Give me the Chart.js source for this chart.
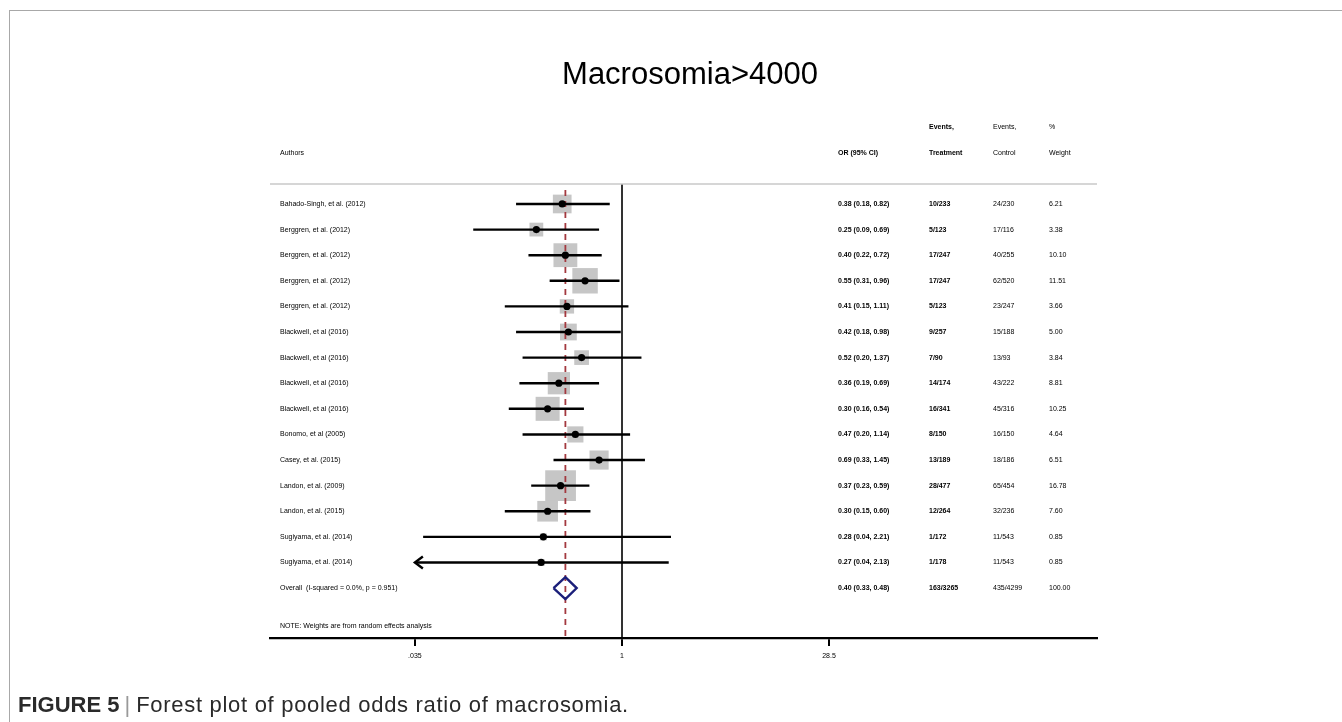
<!DOCTYPE html>
<html lang="en">
<head>
<meta charset="utf-8">
<title>Macrosomia>4000</title>
<script src="https://cdn.jsdelivr.net/npm/chart.js@4.4.0/dist/chart.umd.min.js"></script>
<style>
    html, body { margin: 0; padding: 0; background: #fff; }
    #marco {
        position: absolute; left: 9px; top: 10px; right: 0; bottom: 0;
        border-top: 1px solid #a8a8a8; border-left: 1px solid #a8a8a8;
    }
    #bosque { position: absolute; left: 0; top: 0; }
    #pie {
        position: absolute; left: 18px; top: 692px;
        font-family: "Liberation Sans", Arial, sans-serif; font-size: 22px; color: #2a2a2a;
        white-space: nowrap;
    }
    #pie .barra { color: #999; margin: 0 6px 0 5px; }
    #pie .resto { letter-spacing: 0.7px; }
</style>
</head>
<body>
<div id="marco"></div>
<canvas id="bosque" width="1342" height="722"></canvas>
<div id="pie"><b>FIGURE 5</b><span class="barra">|</span><span class="resto">Forest plot of pooled odds ratio of macrosomia.</span></div>

<script>
const autores = [
    'Bahado-Singh, et al. (2012)',
    'Berggren, et al. (2012)',
    'Berggren, et al. (2012)',
    'Berggren, et al. (2012)',
    'Berggren, et al. (2012)',
    'Blackwell, et al (2016)',
    'Blackwell, et al (2016)',
    'Blackwell, et al (2016)',
    'Blackwell, et al (2016)',
    'Bonomo, et al (2005)',
    'Casey, et al. (2015)',
    'Landon, et al. (2009)',
    'Landon, et al. (2015)',
    'Sugiyama, et al. (2014)',
    'Sugiyama, et al. (2014)'
];
const oddsRatio = [0.38, 0.25, 0.40, 0.55, 0.41, 0.42, 0.52, 0.36, 0.30, 0.47, 0.69, 0.37, 0.30, 0.28, 0.27];
const icInferior = [0.18, 0.09, 0.22, 0.31, 0.15, 0.18, 0.20, 0.19, 0.16, 0.20, 0.33, 0.23, 0.15, 0.04, 0.04];
const icSuperior = [0.82, 0.69, 0.72, 0.96, 1.11, 0.98, 1.37, 0.69, 0.54, 1.14, 1.45, 0.59, 0.60, 2.21, 2.13];
const eventosTratamiento = ['10/233', '5/123', '17/247', '17/247', '5/123', '9/257', '7/90', '14/174', '16/341', '8/150', '13/189', '28/477', '12/264', '1/172', '1/178'];
const eventosControl = ['24/230', '17/116', '40/255', '62/520', '23/247', '15/188', '13/93', '43/222', '45/316', '16/150', '18/186', '65/454', '32/236', '11/543', '11/543'];
const pesos = [6.21, 3.38, 10.10, 11.51, 3.66, 5.00, 3.84, 8.81, 10.25, 4.64, 6.51, 16.78, 7.60, 0.85, 0.85];
const filasConFlecha = [14]; // IC recortado al borde izquierdo

const globalEtiqueta = 'Overall  (I-squared = 0.0%, p = 0.951)';
const globalOR = 0.40;
const globalInferior = 0.33;
const globalSuperior = 0.48;
const globalTratamiento = '163/3265';
const globalControl = '435/4299';
const globalPeso = 100.00;

const valoresEje = [0.035, 1, 28.5];
const etiquetasEje = ['.035', '1', '28.5'];

(function () {
    const fuente = '"Liberation Sans", Arial, sans-serif';
    const n = autores.length;
    const filaGlobal = n;
    const yMin = -0.78;
    const yMax = 16.95;
    const recorte = valoresEje[0];
    const col = { autores: 280, or: 838, trat: 929, ctrl: 993, peso: 1049 };

    const fmt = v => v.toFixed(2);
    const textoOR = (o, a, b) => `${fmt(o)} (${fmt(a)}, ${fmt(b)})`;

    const lineasIC = autores.map((a, i) => ({
        type: 'line',
        data: [
            { x: filasConFlecha.includes(i) ? recorte : icInferior[i], y: i },
            { x: icSuperior[i], y: i }
        ],
        borderColor: '#000',
        borderWidth: 2.4,
        pointRadius: 0,
        order: 3
    }));

    const textos = {
        id: 'textos',
        afterDatasetsDraw(chart) {
            const { ctx, scales: { x, y }, chartArea } = chart;
            ctx.save();
            ctx.fillStyle = '#000';
            ctx.textBaseline = 'middle';

            // titulo
            ctx.font = '31px ' + fuente;
            ctx.textAlign = 'center';
            ctx.fillText('Macrosomia>4000', 690, y.getPixelForValue(-5));

            ctx.textAlign = 'left';
            const escribir = (txt, xx, fila, negrita) => {
                ctx.font = (negrita ? 'bold ' : '') + '7px ' + fuente;
                ctx.fillText(txt, xx, y.getPixelForValue(fila));
            };

            // encabezados
            escribir('Events,', col.trat, -3, true);
            escribir('Events,', col.ctrl, -3, false);
            escribir('%', col.peso, -3, false);
            escribir('Authors', col.autores, -2, false);
            escribir('OR (95% CI)', col.or, -2, true);
            escribir('Treatment', col.trat, -2, true);
            escribir('Control', col.ctrl, -2, false);
            escribir('Weight', col.peso, -2, false);

            autores.forEach((a, i) => {
                escribir(a, col.autores, i, false);
                escribir(textoOR(oddsRatio[i], icInferior[i], icSuperior[i]), col.or, i, true);
                escribir(eventosTratamiento[i], col.trat, i, true);
                escribir(eventosControl[i], col.ctrl, i, false);
                escribir(fmt(pesos[i]), col.peso, i, false);
            });

            escribir(globalEtiqueta, col.autores, filaGlobal, false);
            escribir(textoOR(globalOR, globalInferior, globalSuperior), col.or, filaGlobal, true);
            escribir(globalTratamiento, col.trat, filaGlobal, true);
            escribir(globalControl, col.ctrl, filaGlobal, false);
            escribir(globalPeso.toFixed(2), col.peso, filaGlobal, false);

            escribir('NOTE: Weights are from random effects analysis', col.autores, 16.5, false);

            // linea separadora del encabezado
            ctx.strokeStyle = '#c8c8c8';
            ctx.lineWidth = 1.5;
            ctx.beginPath();
            ctx.moveTo(chartArea.left, chartArea.top);
            ctx.lineTo(chartArea.right, chartArea.top);
            ctx.stroke();

            // flechas de IC recortados
            ctx.strokeStyle = '#000';
            ctx.lineWidth = 2.4;
            filasConFlecha.forEach(i => {
                const px = x.getPixelForValue(recorte);
                const py = y.getPixelForValue(i);
                ctx.beginPath();
                ctx.moveTo(px + 8, py - 6);
                ctx.lineTo(px, py);
                ctx.lineTo(px + 8, py + 6);
                ctx.stroke();
            });
            ctx.restore();
        }
    };

    const ctx = document.getElementById('bosque');
    new Chart(ctx, {
        type: 'scatter',
        data: {
            datasets: [
                {
                    // cajas proporcionales al peso
                    data: autores.map((a, i) => ({ x: oddsRatio[i], y: i })),
                    pointStyle: 'rect',
                    pointRadius: pesos.map(p => 7.5 * Math.sqrt(p) / Math.SQRT2),
                    backgroundColor: '#c6c6c6',
                    borderWidth: 0,
                    order: 6
                },
                {
                    type: 'line',
                    data: [{ x: 1, y: yMin }, { x: 1, y: yMax }],
                    borderColor: '#000',
                    borderWidth: 1.6,
                    pointRadius: 0,
                    order: 5
                },
                {
                    type: 'line',
                    data: [{ x: globalOR, y: -0.55 }, { x: globalOR, y: yMax }],
                    borderColor: '#a3393f',
                    borderWidth: 1.8,
                    borderDash: [6, 5],
                    pointRadius: 0,
                    order: 4
                },
                ...lineasIC,
                {
                    data: autores.map((a, i) => ({ x: oddsRatio[i], y: i })),
                    pointRadius: 3.6,
                    backgroundColor: '#000',
                    borderWidth: 0,
                    order: 2
                },
                {
                    type: 'line',
                    data: [
                        { x: globalInferior, y: filaGlobal },
                        { x: globalOR, y: filaGlobal - 0.43 },
                        { x: globalSuperior, y: filaGlobal },
                        { x: globalOR, y: filaGlobal + 0.43 },
                        { x: globalInferior, y: filaGlobal }
                    ],
                    borderColor: '#1b1f7a',
                    borderWidth: 2.4,
                    pointRadius: 0,
                    fill: false,
                    order: 1
                }
            ]
        },
        options: {
            responsive: false,
            animation: false,
            layout: { padding: { left: 270, right: 245, top: 184, bottom: 0 } },
            scales: {
                x: {
                    type: 'logarithmic',
                    bounds: 'data',
                    min: 0.003355,
                    max: 2182,
                    afterBuildTicks: s => { s.ticks = valoresEje.map(v => ({ value: v })); },
                    afterFit: s => { s.height = 84; },
                    border: { color: '#000', width: 2.2 },
                    grid: { drawOnChartArea: false, color: '#000', lineWidth: 2, tickLength: 8 },
                    ticks: {
                        autoSkip: false,
                        maxRotation: 0,
                        padding: 6,
                        color: '#000',
                        font: { size: 7, family: fuente },
                        callback: (v, i) => etiquetasEje[i]
                    }
                },
                y: {
                    type: 'linear',
                    reverse: true,
                    bounds: 'data',
                    min: yMin,
                    max: yMax,
                    display: false
                }
            },
            plugins: {
                legend: { display: false },
                tooltip: { enabled: false }
            }
        },
        plugins: [textos]
    });
})();
</script>
</body>
</html>
